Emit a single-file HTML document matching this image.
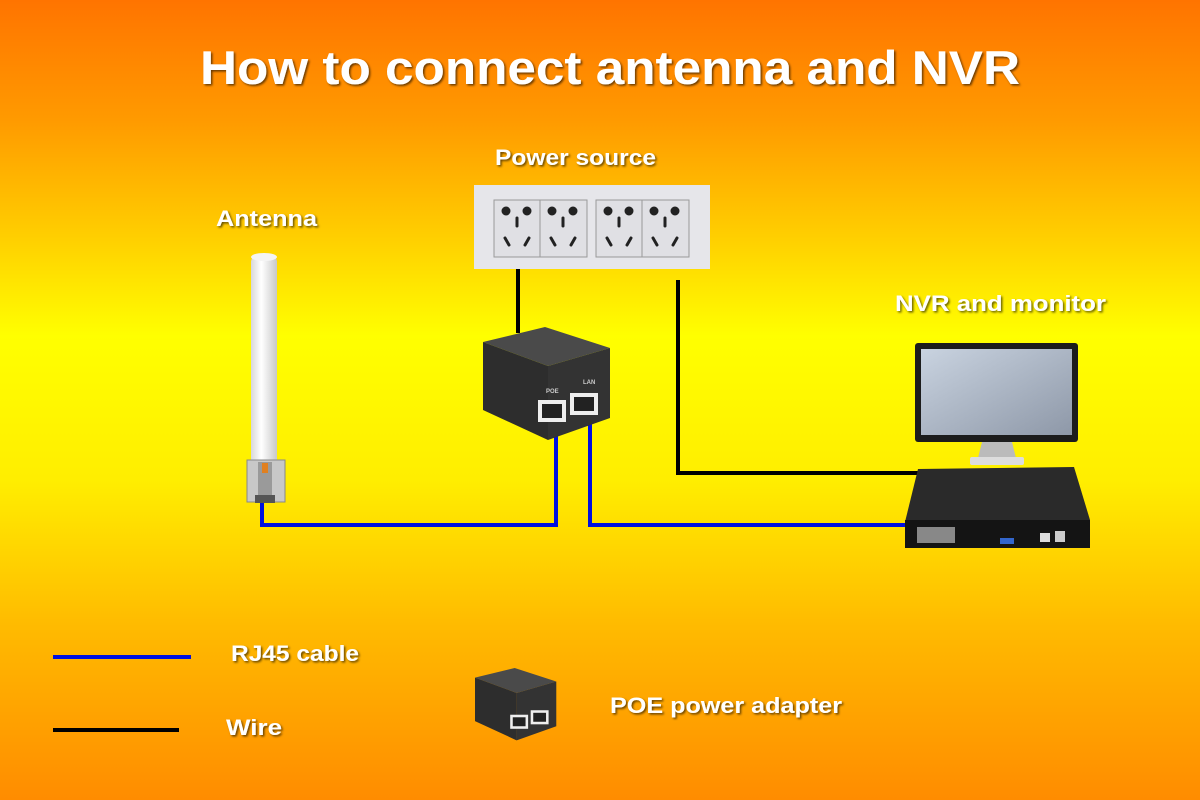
<!DOCTYPE html>
<html><head><meta charset="utf-8"><style>
html,body{margin:0;padding:0;}
html{background:linear-gradient(180deg,#ff7400 0%,#ff9a00 15%,#ffd000 30%,#ffff00 42%,#ffee00 60%,#ffbb00 78%,#ff8c00 100%) fixed;}
body{width:1200px;height:800px;overflow:hidden;font-family:"Liberation Sans",sans-serif;}
svg{display:block;}
svg text{font-family:"Liberation Sans",sans-serif;font-weight:bold;fill:#fff;}
</style></head><body>
<svg width="1200" height="800" viewBox="0 0 1200 800">
<defs>
<filter id="sh"><feDropShadow dx="1.5" dy="1.5" stdDeviation="1" flood-color="#000" flood-opacity="0.6"/></filter>
<linearGradient id="ant" x1="0" x2="1"><stop offset="0" stop-color="#d8d8d8"/><stop offset="0.4" stop-color="#fff"/><stop offset="1" stop-color="#c8c8c8"/></linearGradient>
<linearGradient id="scr" x1="0" y1="0" x2="1" y2="1"><stop offset="0" stop-color="#c9d3e0"/><stop offset="1" stop-color="#8e98a8"/></linearGradient>
</defs>
<text x="200" y="84" font-size="47" textLength="820" lengthAdjust="spacingAndGlyphs" filter="url(#sh)">How to connect antenna and NVR</text>
<text x="495" y="165" font-size="22" textLength="161" lengthAdjust="spacingAndGlyphs" filter="url(#sh)">Power source</text>
<text x="216" y="226" font-size="22" textLength="101" lengthAdjust="spacingAndGlyphs" filter="url(#sh)">Antenna</text>
<text x="895" y="311" font-size="22" textLength="211" lengthAdjust="spacingAndGlyphs" filter="url(#sh)">NVR and monitor</text>
<text x="231" y="661" font-size="22" textLength="128" lengthAdjust="spacingAndGlyphs" filter="url(#sh)">RJ45 cable</text>
<text x="226" y="735" font-size="22" textLength="56" lengthAdjust="spacingAndGlyphs" filter="url(#sh)">Wire</text>
<text x="610" y="713" font-size="22" textLength="232" lengthAdjust="spacingAndGlyphs" filter="url(#sh)">POE power adapter</text>

<g stroke="#000" stroke-width="4" fill="none">
<line x1="518" y1="268" x2="518" y2="333"/>
<polyline points="678,280 678,473 930,473"/>
<line x1="53" y1="730" x2="179" y2="730"/>
</g>
<g stroke="#0010e0" stroke-width="4" fill="none">
<polyline points="262,500 262,525 556,525 556,412"/>
<polyline points="590,412 590,525 905,525"/>
<line x1="53" y1="657" x2="191" y2="657"/>
</g>

<rect x="474" y="185" width="236" height="84" fill="#e6e6ea"/>
<rect x="494" y="200" width="93" height="57" fill="#e0e0e4" stroke="#999" stroke-width="1"/>
<line x1="540" y1="200" x2="540" y2="257" stroke="#999"/>
<rect x="596" y="200" width="93" height="57" fill="#e0e0e4" stroke="#999"/>
<line x1="642" y1="200" x2="642" y2="257" stroke="#999"/>
<g fill="#222" stroke="#222" stroke-width="3" stroke-linecap="round">
<g id="s"><circle cx="506" cy="211" r="3"/><circle cx="527" cy="211" r="3"/><line x1="517" y1="218" x2="517" y2="226"/><line x1="505" y1="238" x2="509" y2="245"/><line x1="529" y1="238" x2="525" y2="245"/></g>
<use href="#s" x="46"/><use href="#s" x="102"/><use href="#s" x="148"/>
</g>

<g>
<polygon points="483,342 545,327 610,348 548,366" fill="#4a4a4a"/>
<polygon points="483,342 548,366 548,440 483,410" fill="#2d2d2d"/>
<polygon points="548,366 610,348 610,418 548,440" fill="#333"/>
<text x="546" y="393" font-size="6" style="fill:#ccc">POE</text>
<text x="583" y="384" font-size="6" style="fill:#ccc">LAN</text>
<rect x="538" y="400" width="28" height="22" fill="#eee"/>
<rect x="542" y="404" width="20" height="14" fill="#222"/>
<rect x="570" y="393" width="28" height="22" fill="#eee"/>
<rect x="574" y="397" width="20" height="14" fill="#222"/>
</g>
<g transform="translate(475,668) scale(0.64) translate(-483,-327)">
<polygon points="483,342 545,327 610,348 548,366" fill="#4a4a4a"/>
<polygon points="483,342 548,366 548,440 483,410" fill="#2d2d2d"/>
<polygon points="548,366 610,348 610,418 548,440" fill="#333"/>
<rect x="538" y="400" width="28" height="22" fill="#eee"/>
<rect x="542" y="404" width="20" height="14" fill="#222"/>
<rect x="570" y="393" width="28" height="22" fill="#eee"/>
<rect x="574" y="397" width="20" height="14" fill="#222"/>
</g>

<rect x="251" y="256" width="26" height="210" rx="6" fill="url(#ant)"/>
<ellipse cx="264" cy="257" rx="13" ry="4" fill="#f4f4f4"/>
<rect x="247" y="460" width="38" height="42" fill="#c8c8c8" stroke="#888"/>
<rect x="258" y="462" width="14" height="38" fill="#9a9a9a"/>
<rect x="262" y="463" width="6" height="10" fill="#e08020"/>
<rect x="255" y="495" width="20" height="8" fill="#555"/>

<rect x="915" y="343" width="163" height="99" rx="3" fill="#1c1c1c"/>
<rect x="921" y="349" width="151" height="86" fill="url(#scr)"/>
<polygon points="982,442 1012,442 1016,458 978,458" fill="#bbb"/>
<rect x="970" y="457" width="54" height="8" rx="2" fill="#ddd"/>
<polygon points="918,469 1074,467 1090,520 905,522" fill="#2a2a2a"/>
<rect x="905" y="520" width="185" height="28" fill="#141414"/>
<rect x="917" y="527" width="38" height="16" fill="#888"/>
<rect x="1000" y="538" width="14" height="6" fill="#36c"/>
<rect x="1040" y="533" width="10" height="9" fill="#ddd"/>
<rect x="1055" y="531" width="10" height="11" fill="#ccc"/>
</svg>
</body></html>
